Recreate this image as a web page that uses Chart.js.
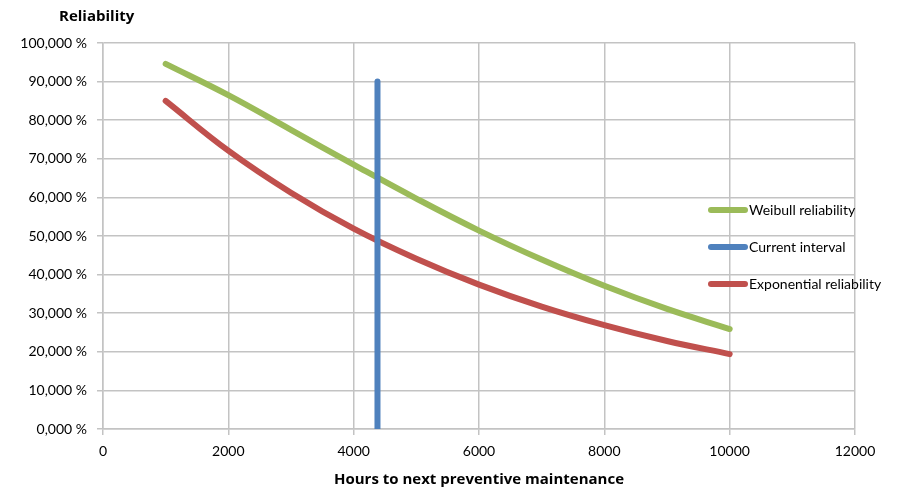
<!DOCTYPE html>
<html>
<head>
<meta charset="utf-8">
<script src="https://cdn.jsdelivr.net/npm/chart.js@4/dist/chart.umd.min.js"></script>
<style>
  html, body { margin: 0; padding: 0; background: #fff; }
  #wrap { width: 910px; height: 490px; }
</style>
</head>
<body>
<div id="wrap"><canvas id="reliability_chart"></canvas></div>
<script>
// hours until the next preventive maintenance
var hours = [1000, 2000, 3000, 4000, 5000, 6000, 7000, 8000, 9000, 10000];
// reliability in percent
var weibull = [94.6, 86.5, 77.5, 68.5, 59.7, 51.4, 43.9, 37.1, 31.1, 25.9];
var exponential = [85.0, 72.1, 61.2, 51.9, 44.1, 37.4, 31.7, 26.9, 22.8, 19.4];
// current maintenance interval, drawn as a vertical marker
var currentInterval = 4380;
var currentRange = [0, 90];
var xTicks = [0, 2000, 4000, 6000, 8000, 10000, 12000];
var yTicks = [0, 10, 20, 30, 40, 50, 60, 70, 80, 90, 100];

var FONT = "Lato, 'Open Sans', sans-serif";
var BOLD_FONT = "'Open Sans', Lato, sans-serif";
var GRID = '#c3c3c3';

function points(xs, ys){
    return xs.map(function(x, i){ return {x: x, y: ys[i]}; });
}

// y axis title sits above the axis, legend floats over the plot
var extras = {
    id: 'extras',
    afterDraw: function(chart){
        var ctx = chart.ctx;
        var area = chart.chartArea;
        ctx.save();
        ctx.fillStyle = '#000';
        ctx.font = 'bold 15px ' + BOLD_FONT;
        ctx.textAlign = 'left';
        ctx.textBaseline = 'middle';
        ctx.fillText('Reliability', area.left - 44, 17);

        ctx.font = '14px ' + FONT;
        chart.data.datasets.forEach(function(ds, i){
            var y = 210 + i * 37;
            ctx.strokeStyle = ds.borderColor;
            ctx.lineWidth = 6;
            ctx.lineCap = 'round';
            ctx.beginPath();
            ctx.moveTo(711, y);
            ctx.lineTo(745, y);
            ctx.stroke();
            ctx.fillText(ds.label, 749, y);
        });
        ctx.restore();
    }
};

var grafica = document.getElementById('reliability_chart');
var myChart = new Chart(grafica, {
    type: 'line',
    data: {
        datasets: [{
            label: 'Weibull reliability',
            data: points(hours, weibull),
            borderColor: '#9bbb59',
            order: 1
        }, {
            label: 'Current interval',
            data: points([currentInterval, currentInterval], currentRange),
            borderColor: '#4f81bd',
            order: 0
        }, {
            label: 'Exponential reliability',
            data: points(hours, exponential),
            borderColor: '#c0504d',
            order: 1
        }]
    },
    options: {
        responsive: true,
        maintainAspectRatio: false,
        animation: false,
        layout: { padding: { top: 43, right: 55, bottom: 0, left: 0 } },
        elements: {
            point: { radius: 0 },
            line: {
                borderWidth: 6,
                borderCapStyle: 'round',
                borderJoinStyle: 'round',
                tension: 0.4,
                fill: false
            }
        },
        plugins: {
            legend: { display: false },
            tooltip: { enabled: false }
        },
        scales: {
            x: {
                type: 'linear',
                min: 0,
                max: 12000,
                afterBuildTicks: function(scale){
                    scale.ticks = xTicks.map(function(v){ return {value: v}; });
                },
                afterFit: function(scale){ scale.height = 61; },
                grid: { color: GRID, lineWidth: 1.5, tickLength: 6, drawTicks: true },
                border: { color: GRID, width: 1.5 },
                ticks: {
                    color: '#000',
                    padding: 8,
                    maxRotation: 0,
                    font: { family: FONT, size: 14 },
                    callback: function(v){ return String(v); }
                },
                title: {
                    display: true,
                    text: 'Hours to next preventive maintenance',
                    color: '#000',
                    font: { family: BOLD_FONT, size: 15, weight: 'bold' },
                    padding: { top: 4, bottom: 1 }
                }
            },
            y: {
                min: 0,
                max: 100,
                afterBuildTicks: function(scale){
                    scale.ticks = yTicks.map(function(v){ return {value: v}; });
                },
                afterFit: function(scale){ scale.width = 103; },
                grid: { color: GRID, lineWidth: 1.5, tickLength: 6 },
                border: { color: GRID, width: 1.5 },
                ticks: {
                    color: '#000',
                    padding: 10,
                    font: { family: FONT, size: 14 },
                    callback: function(v){ return v.toFixed(3).replace('.', ',') + ' %'; }
                }
            }
        }
    },
    plugins: [extras]
});
</script>
</body>
</html>
